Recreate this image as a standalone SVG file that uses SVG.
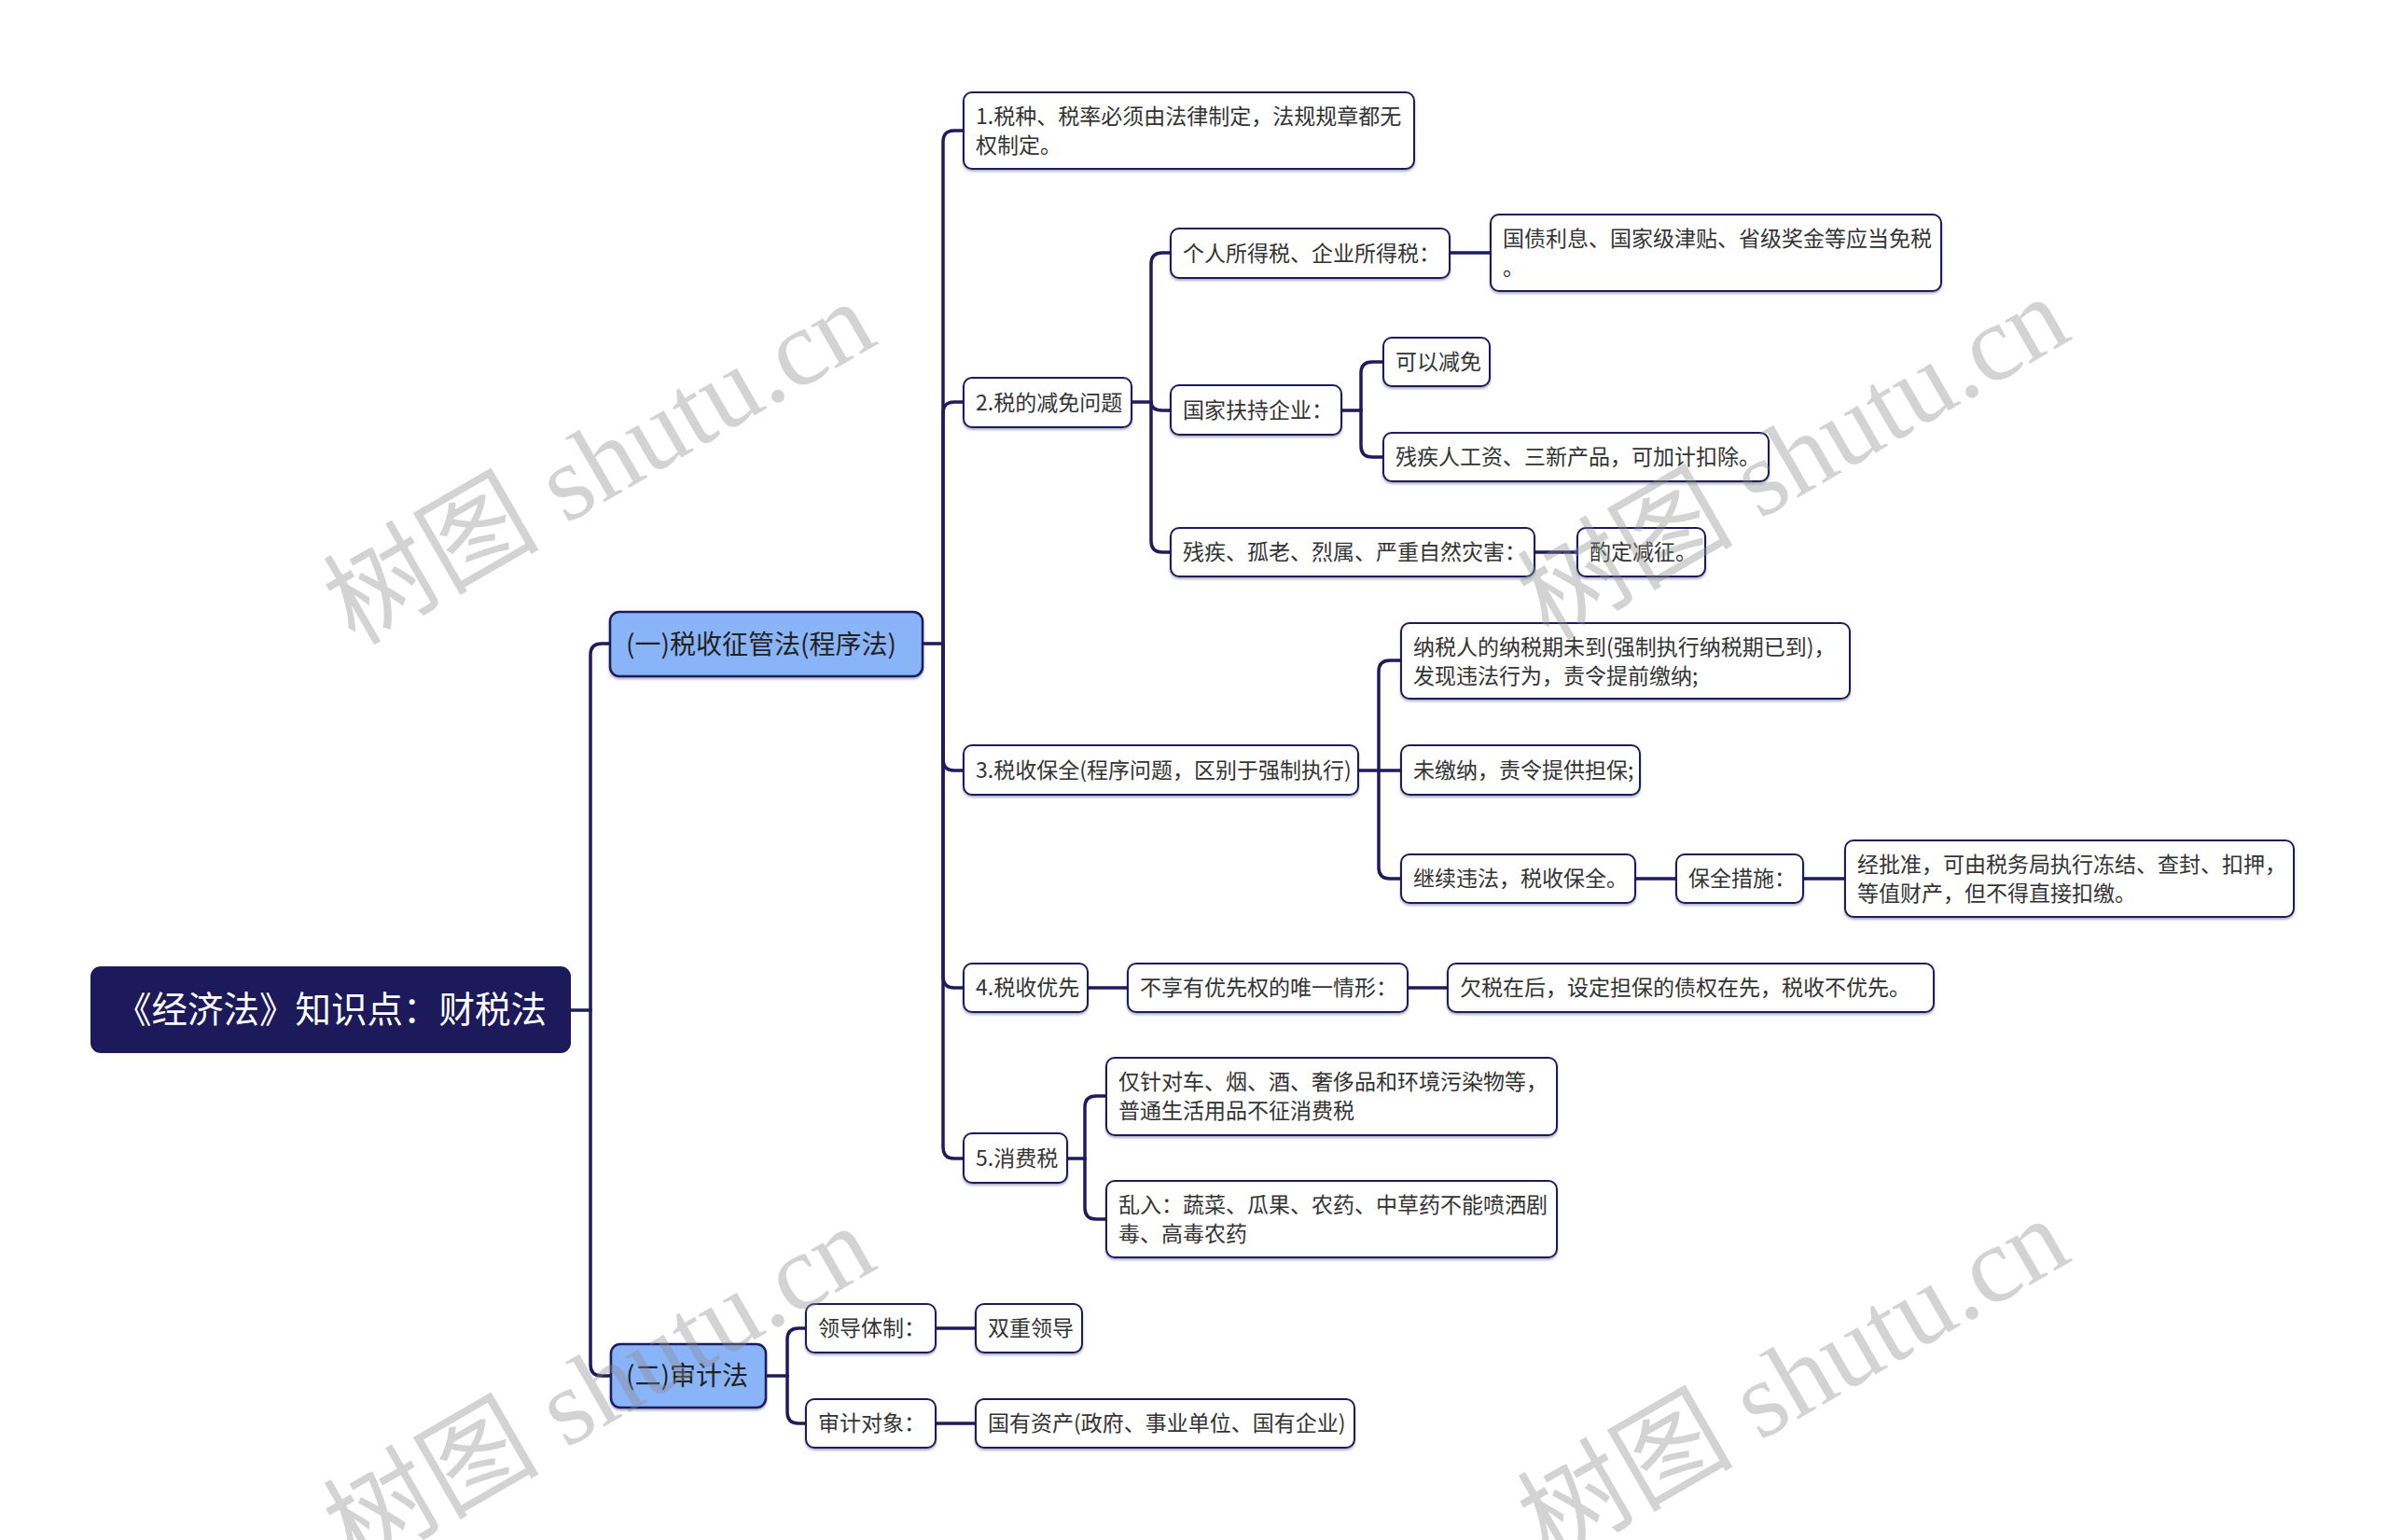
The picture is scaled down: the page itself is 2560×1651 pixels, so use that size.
<svg xmlns="http://www.w3.org/2000/svg" width="2560" height="1651" viewBox="0 0 2560 1651">
<defs>
<filter id="sh" x="-5%" y="-10%" width="110%" height="130%"><feDropShadow dx="0" dy="2" stdDeviation="1" flood-color="#1e1c5c" flood-opacity="0.35"/></filter>
<style>
.n rect{fill:#ffffff;stroke:#1e1c5c;stroke-width:2;filter:url(#sh)}
.l1 rect{fill:#8ab4f8;stroke:#1e1c5c;stroke-width:2.5;filter:url(#sh)}
.root rect{fill:#1c1a5a;stroke:#1c1a5a;stroke-width:2}
text{font-family:"Noto Sans CJK SC","Microsoft YaHei",sans-serif}
.t{font-size:23px;fill:#333333}
.t1{font-size:28px;fill:#222222}
.tr{font-size:38.5px;fill:#ffffff}
.c path{fill:none;stroke:#1e1c5c;stroke-width:3.5;stroke-linecap:round}
.wm{font-family:"Liberation Serif","Noto Sans CJK SC",serif;font-size:116px;fill:#8c8c8c;fill-opacity:0.38}
</style>
</defs>
<rect x="0" y="0" width="2560" height="1651" fill="#ffffff"/>

<g class="c" id="connectors">
<path d="M611,1083 H633"/>
<path d="M633,1083 V702 Q633,690 645,690 H654"/>
<path d="M633,1083 V1463 Q633,1475 645,1475 H655"/>
<path d="M989,690 H1011"/>
<path d="M1011,690 V152 Q1011,140 1023,140 H1033"/>
<path d="M1011,690 V443 Q1011,431 1023,431 H1033"/>
<path d="M1011,690 V814 Q1011,826 1023,826 H1033"/>
<path d="M1011,690 V1047 Q1011,1059 1023,1059 H1033"/>
<path d="M1011,690 V1230 Q1011,1242 1023,1242 H1033"/>
<path d="M1213,431 H1234"/>
<path d="M1234,431 V283 Q1234,271 1246,271 H1255"/>
<path d="M1234,431 Q1234,440 1246,440 H1255"/>
<path d="M1234,431 V580 Q1234,592 1246,592 H1255"/>
<path d="M1554,271 H1598"/>
<path d="M1438,440 H1459"/>
<path d="M1459,440 V400 Q1459,388 1471,388 H1483"/>
<path d="M1459,440 V478 Q1459,490 1471,490 H1483"/>
<path d="M1645,592 H1691"/>
<path d="M1456,826 H1502"/>
<path d="M1478,826 V720 Q1478,708 1490,708 H1502"/>
<path d="M1478,826 V930 Q1478,942 1490,942 H1502"/>
<path d="M1753,942 H1797"/>
<path d="M1933,942 H1978"/>
<path d="M1166,1059 H1209"/>
<path d="M1509,1059 H1552"/>
<path d="M1144,1242 H1163"/>
<path d="M1163,1242 V1187 Q1163,1175 1175,1175 H1186"/>
<path d="M1163,1242 V1295 Q1163,1307 1175,1307 H1186"/>
<path d="M821,1475 H844"/>
<path d="M844,1475 V1436 Q844,1424 856,1424 H864"/>
<path d="M844,1475 V1514 Q844,1526 856,1526 H864"/>
<path d="M1003,1424 H1046"/>
<path d="M1003,1526 H1046"/>
</g>

<g class="root" id="root"><rect x="98" y="1037" width="513" height="91" rx="10"/><text class="tr" x="355" y="1096" text-anchor="middle">《经济法》知识点：财税法</text></g>

<g class="l1" id="nA"><rect x="654" y="656" width="335" height="69" rx="10"/><text class="t1" x="671" y="701">(一)税收征管法(程序法)</text></g>
<g class="l1" id="nB"><rect x="655" y="1441" width="166" height="68" rx="10"/><text class="t1" x="671" y="1485">(二)审计法</text></g>

<g class="n" id="n1"><rect x="1033" y="99" width="483" height="82" rx="9"/><text class="t" x="1046" y="133">1.税种、税率必须由法律制定，法规规章都无</text><text class="t" x="1046" y="164">权制定。</text></g>
<g class="n" id="n2"><rect x="1033" y="405" width="180" height="53" rx="9"/><text class="t" x="1046" y="440">2.税的减免问题</text></g>
<g class="n" id="n2a"><rect x="1255" y="245" width="299" height="53" rx="9"/><text class="t" x="1268" y="280">个人所得税、企业所得税：</text></g>
<g class="n" id="n2a1"><rect x="1598" y="230" width="483" height="82" rx="9"/><text class="t" x="1611" y="264">国债利息、国家级津贴、省级奖金等应当免税</text><text class="t" x="1611" y="295">。</text></g>
<g class="n" id="n2b"><rect x="1255" y="413" width="183" height="53" rx="9"/><text class="t" x="1268" y="448">国家扶持企业：</text></g>
<g class="n" id="n2b1"><rect x="1483" y="362" width="114" height="52" rx="9"/><text class="t" x="1496" y="396">可以减免</text></g>
<g class="n" id="n2b2"><rect x="1483" y="464" width="413" height="52" rx="9"/><text class="t" x="1496" y="498">残疾人工资、三新产品，可加计扣除。</text></g>
<g class="n" id="n2c"><rect x="1255" y="566" width="390" height="52" rx="9"/><text class="t" x="1268" y="600">残疾、孤老、烈属、严重自然灾害：</text></g>
<g class="n" id="n2c1"><rect x="1691" y="566" width="137" height="52" rx="9"/><text class="t" x="1704" y="600">酌定减征。</text></g>

<g class="n" id="n3"><rect x="1033" y="799" width="423" height="53" rx="9"/><text class="t" x="1046" y="834">3.税收保全(程序问题，区别于强制执行)</text></g>
<g class="n" id="n3a"><rect x="1502" y="668" width="481" height="81" rx="9"/><text class="t" x="1515" y="702">纳税人的纳税期未到(强制执行纳税期已到)，</text><text class="t" x="1515" y="733">发现违法行为，责令提前缴纳;</text></g>
<g class="n" id="n3b"><rect x="1502" y="799" width="256" height="53" rx="9"/><text class="t" x="1515" y="834">未缴纳，责令提供担保;</text></g>
<g class="n" id="n3c"><rect x="1502" y="916" width="251" height="52" rx="9"/><text class="t" x="1515" y="950">继续违法，税收保全。</text></g>
<g class="n" id="n3c1"><rect x="1797" y="916" width="136" height="52" rx="9"/><text class="t" x="1810" y="950">保全措施：</text></g>
<g class="n" id="n3c1a"><rect x="1978" y="901" width="481" height="82" rx="9"/><text class="t" x="1991" y="935">经批准，可由税务局执行冻结、查封、扣押，</text><text class="t" x="1991" y="966">等值财产，但不得直接扣缴。</text></g>

<g class="n" id="n4"><rect x="1033" y="1033" width="133" height="52" rx="9"/><text class="t" x="1046" y="1067">4.税收优先</text></g>
<g class="n" id="n4a"><rect x="1209" y="1033" width="300" height="52" rx="9"/><text class="t" x="1222" y="1067">不享有优先权的唯一情形：</text></g>
<g class="n" id="n4a1"><rect x="1552" y="1033" width="521" height="52" rx="9"/><text class="t" x="1565" y="1067">欠税在后，设定担保的债权在先，税收不优先。</text></g>

<g class="n" id="n5"><rect x="1033" y="1215" width="111" height="53" rx="9"/><text class="t" x="1046" y="1250">5.消费税</text></g>
<g class="n" id="n5a"><rect x="1186" y="1134" width="483" height="83" rx="9"/><text class="t" x="1199" y="1168">仅针对车、烟、酒、奢侈品和环境污染物等，</text><text class="t" x="1199" y="1199">普通生活用品不征消费税</text></g>
<g class="n" id="n5b"><rect x="1186" y="1266" width="483" height="82" rx="9"/><text class="t" x="1199" y="1300">乱入：蔬菜、瓜果、农药、中草药不能喷洒剧</text><text class="t" x="1199" y="1331">毒、高毒农药</text></g>

<g class="n" id="nB1"><rect x="864" y="1398" width="139" height="52" rx="9"/><text class="t" x="877" y="1432">领导体制：</text></g>
<g class="n" id="nB1a"><rect x="1046" y="1398" width="114" height="52" rx="9"/><text class="t" x="1059" y="1432">双重领导</text></g>
<g class="n" id="nB2"><rect x="864" y="1500" width="139" height="52" rx="9"/><text class="t" x="877" y="1534">审计对象：</text></g>
<g class="n" id="nB2a"><rect x="1046" y="1500" width="406" height="52" rx="9"/><text class="t" x="1059" y="1534">国有资产(政府、事业单位、国有企业)</text></g>

<g id="watermark">
<text class="wm" x="662" y="530" text-anchor="middle" transform="rotate(-30 662 530)">树图 shutu.cn</text>
<text class="wm" x="1942" y="525" text-anchor="middle" transform="rotate(-30 1942 525)">树图 shutu.cn</text>
<text class="wm" x="662" y="1521" text-anchor="middle" transform="rotate(-30 662 1521)">树图 shutu.cn</text>
<text class="wm" x="1942" y="1513" text-anchor="middle" transform="rotate(-30 1942 1513)">树图 shutu.cn</text>
</g>
</svg>
